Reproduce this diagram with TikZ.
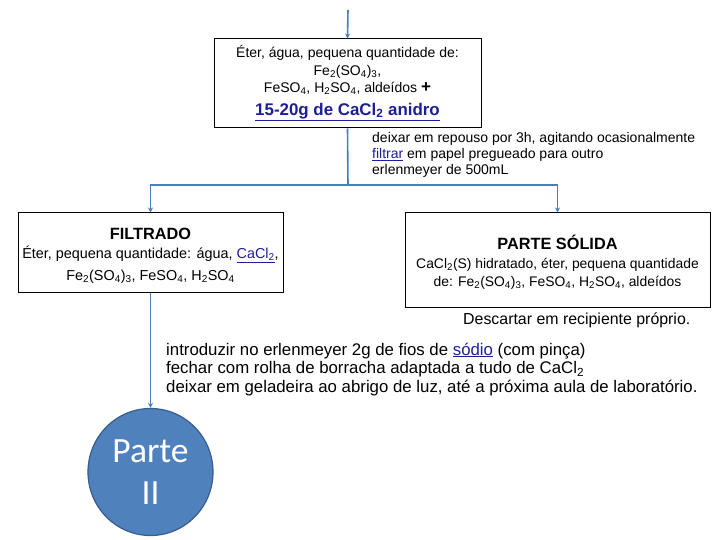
\documentclass[tikz,border=0pt]{standalone}
\usepackage{fontspec}
\setmainfont{Liberation Sans}
\newfontfamily\calib{Carlito}
\usetikzlibrary{arrows.meta,shapes.geometric}
\definecolor{conn}{RGB}{74,126,187}
\definecolor{circfill}{RGB}{79,129,189}
\definecolor{circdraw}{RGB}{56,93,138}
\definecolor{linkblue}{RGB}{30,30,150}
\newcommand{\lnk}[1]{\textcolor{linkblue}{\underline{#1}}}
\newcommand{\sbs}[1]{\textsubscript{#1}}
\begin{document}
\begin{tikzpicture}[x=1pt,y=-1pt,
  box/.style={draw=black,line width=1pt,fill=white,inner sep=0pt},
  boxtext/.style={inner sep=0pt,align=center},
  conline/.style={draw=conn,line width=1.6pt},
  arr/.style={conline,-{Stealth[length=5pt,width=5pt]}},
  plain/.style={inner sep=0pt,align=left}
]
\useasboundingbox (0,0) rectangle (720,540);

% top box
\node[box,minimum width=267pt,minimum height=89pt] (top) at (347.5,83.5) {};
\node[boxtext,font=\fontsize{14}{17.5}\selectfont] (topT) at (347.5,83)
 {Éter, água, pequena quantidade de:\\
  Fe\sbs{2}(SO\sbs{4})\sbs{3},\\
  FeSO\sbs{4}, H\sbs{2}SO\sbs{4}, aldeídos {\fontsize{17}{17}\selectfont\bfseries +}\\[5pt]
  {\fontsize{16.9}{20}\selectfont\bfseries\lnk{15-20g de CaCl\sbs{2} anidro}}};

\coordinate (start) at (348,10);
\draw[arr] (start) -- (top.north);

% step text
\node[plain,anchor=north west,font=\fontsize{14}{16}\selectfont] (step1) at (372,132)
 {deixar em repouso por 3h, agitando ocasionalmente\\
  \lnk{filtrar} em papel pregueado para outro\\
  erlenmeyer de 500mL};

% FILTRADO
\node[box,minimum width=265pt,minimum height=79pt] (filt) at (150.5,252.5) {};
\node[boxtext,font=\fontsize{14.4}{19}\selectfont] (filtT) at (150.5,255.5)
 {{\fontsize{16.3}{19}\selectfont\bfseries FILTRADO}\\
  Éter, pequena quantidade: água, \lnk{CaCl\sbs{2}},\\[3pt]
  Fe\sbs{2}(SO\sbs{4})\sbs{3}, FeSO\sbs{4}, H\sbs{2}SO\sbs{4}};

% PARTE SOLIDA
\node[box,minimum width=305pt,minimum height=94pt] (solid) at (557.5,260) {};
\node[boxtext,font=\fontsize{13.9}{18.5}\selectfont] (solidT) at (557.5,262.5)
 {{\fontsize{16.3}{19}\selectfont\bfseries PARTE SÓLIDA}\\
  CaCl\sbs{2}(S) hidratado, éter, pequena quantidade\\
  de: Fe\sbs{2}(SO\sbs{4})\sbs{3}, FeSO\sbs{4}, H\sbs{2}SO\sbs{4}, aldeídos};

\node[plain,anchor=west,font=\fontsize{15.9}{18}\selectfont] (desc) at (463,320.5)
 {Descartar em recipiente próprio.};

% connectors
\coordinate (j) at (348,185);
\draw[conline] (top.south) -- (j);
\draw[arr] (j) -| (filt.north);
\draw[arr] (j) -| (solid.north);

% bottom text
\node[plain,anchor=north west,font=\fontsize{16.8}{18.8}\selectfont] (step2) at (166,342.5)
 {introduzir no erlenmeyer 2g de fios de \lnk{sódio} (com pinça)\\
  fechar com rolha de borracha adaptada a tudo de CaCl\sbs{2}\\
  deixar em geladeira ao abrigo de luz, até a próxima aula de laboratório.};

% circle
\node[ellipse,draw=circdraw,fill=circfill,line width=1.2pt,minimum width=125pt,
  minimum height=127pt,inner sep=0pt,text=white,align=center,
  font=\calib\fontsize{35.5}{42}\selectfont] (c2) at (150.5,472) {Parte\\II};
\draw[arr] (filt.south) -- (c2.north);
\end{tikzpicture}
\end{document}
